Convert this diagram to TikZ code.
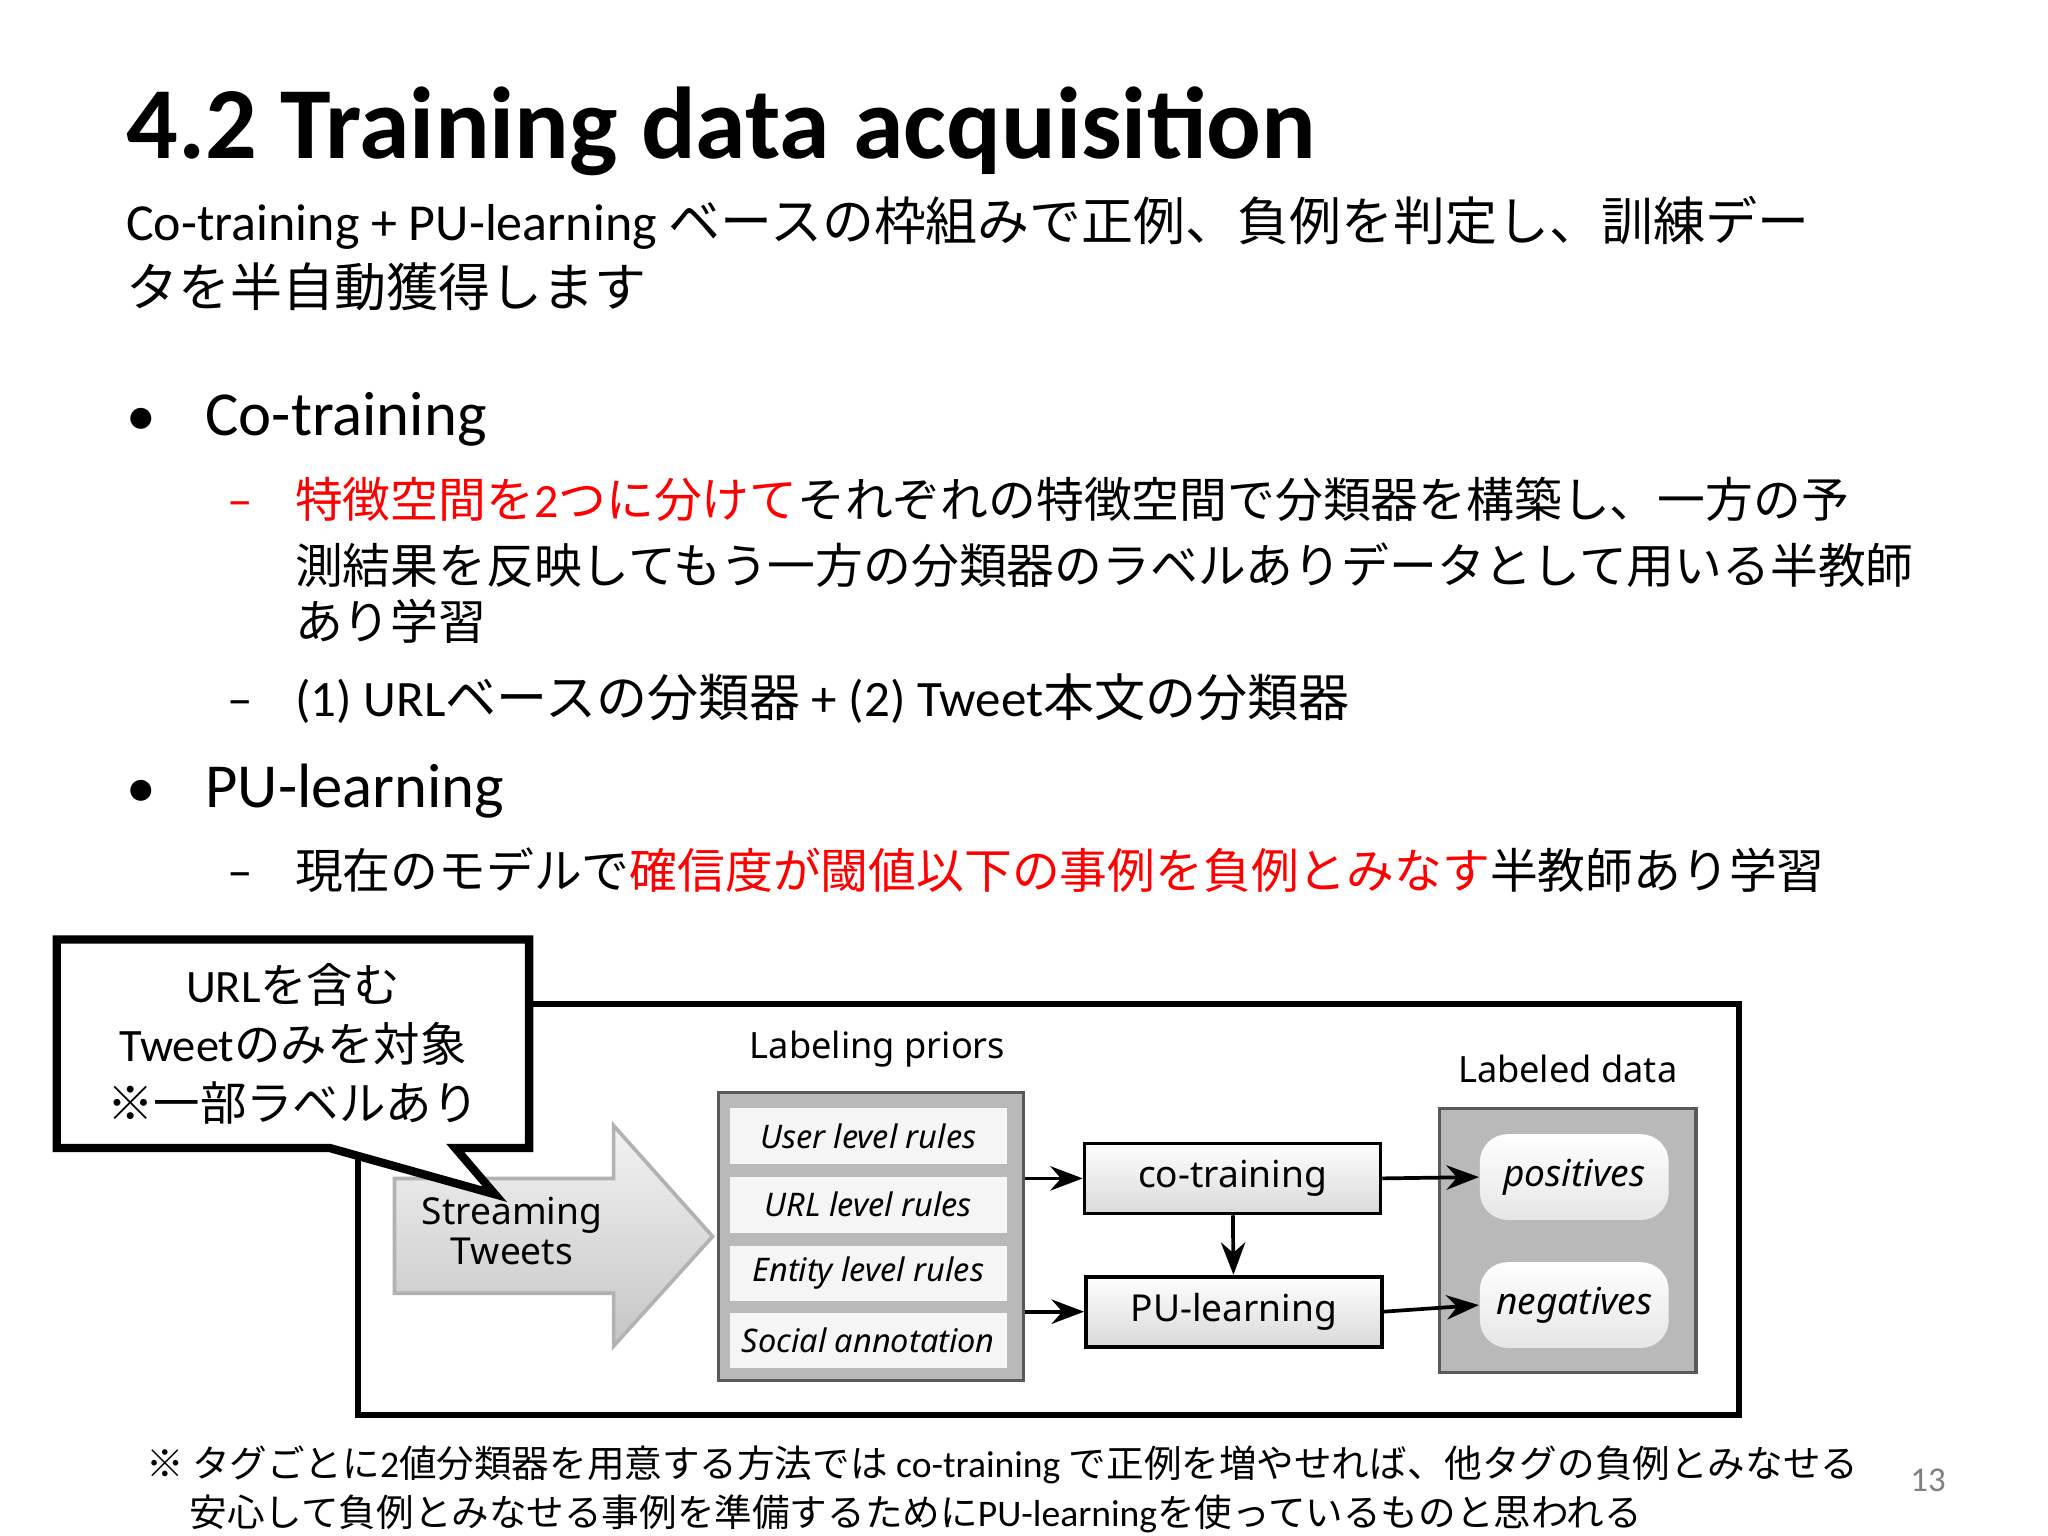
\documentclass[tikz,border=0pt]{standalone}
\usepackage{fontspec}
\setmainfont{Carlito}
\newfontfamily\jp{Noto Sans CJK JP}
\newfontfamily\dg{Noto Sans}
\usetikzlibrary{arrows.meta,shadows}
\begin{document}
\begin{tikzpicture}[x=0.01cm,y=-0.01cm,
  txt/.style={anchor=base west,inner sep=0},
  rule/.style={fill=gray!8,draw=none,minimum width=2.1cm,minimum height=0.42cm,font=\dg\itshape\fontsize{7}{9}\selectfont,inner sep=0},
  proc/.style={draw=black,thick,top color=white,bottom color=gray!30,minimum width=2.24cm,minimum height=0.53cm,font=\dg\fontsize{8}{10}\selectfont,inner sep=0},
  res/.style={rounded corners=6pt,top color=white,bottom color=gray!20,draw=none,minimum width=1.43cm,minimum height=0.65cm,font=\dg\itshape\fontsize{8}{10}\selectfont,inner sep=0},
  arr/.style={-{Stealth[length=7pt]},thick}]
\useasboundingbox (0,0) rectangle (1552,1164);
\fill[white] (0,0) rectangle (1552,1164);
\def\red{\color{red}}
\node[txt,font=\bfseries\fontsize{22}{25}\selectfont] (title) at (95,120) {4.2 Training data acquisition};
\node[txt,font=\fontsize{11.2}{14}\selectfont] (s1) at (95,182) {Co-training + PU-learning {\jp ベースの枠組みで正例、負例を判定し、訓練デー}};
\node[txt,font=\jp\fontsize{11.2}{14}\selectfont] (s2) at (95,232) {タを半自動獲得します};
\node[txt,font=\fontsize{12.8}{15}\selectfont] (b1) at (95,330) {•};
\node[txt,font=\fontsize{13.5}{15}\selectfont] (b1t) at (155,330) {Co-training};
\node[txt,font=\fontsize{11}{14}\selectfont] (d1) at (172,392) {\red –};
\node[txt,font=\jp\fontsize{10.3}{14}\selectfont] (d1a) at (223,392) {{\red 特徴空間を{\rmfamily 2}つに分けて}それぞれの特徴空間で分類器を構築し、一方の予};
\node[txt,font=\jp\fontsize{10.3}{14}\selectfont] (d1b) at (223,442) {測結果を反映してもう一方の分類器のラベルありデータとして用いる半教師};
\node[txt,font=\jp\fontsize{10.3}{14}\selectfont] (d1c) at (223,485) {あり学習};
\node[txt,font=\fontsize{11}{14}\selectfont] (d2) at (172,543) {–};
\node[txt,font=\fontsize{11}{14}\selectfont] (d2a) at (223,543) {(1) URL{\jp ベースの分類器} + (2) Tweet{\jp 本文の分類器}};
\node[txt,font=\fontsize{12.8}{15}\selectfont] (b2) at (95,612) {•};
\node[txt,font=\fontsize{13.5}{15}\selectfont] (b2t) at (155,612) {PU-learning};
\node[txt,font=\fontsize{11}{14}\selectfont] (d3) at (172,673) {–};
\node[txt,font=\jp\fontsize{10.3}{14}\selectfont] (d3a) at (223,673) {現在のモデルで{\red 確信度が閾値以下の事例を負例とみなす}半教師あり学習};
% diagram
\draw[line width=1.3pt] (271,761) rectangle (1318,1072);
\draw[top color=gray!10,bottom color=gray!45,draw=gray!60,thick] (299,893) -- (465,893) -- (465,853) -- (540,937) -- (465,1020) -- (465,980) -- (299,980) -- cycle;
\node[align=center,font=\dg\fontsize{8}{8.5}\selectfont,inner sep=0] (st) at (388,933) {Streaming\\Tweets};
\node[font=\dg\fontsize{7.8}{10}\selectfont] (lp) at (665,795) {Labeling priors};
\node[draw=gray!70!black,thick,fill=gray!55,minimum width=2.31cm,minimum height=2.18cm,inner sep=0] (pri) at (660,937) {};
\node[rule] (r1) at (658,861) {User level rules};
\node[rule] (r2) at (658,913) {URL level rules};
\node[rule] (r3) at (658,965) {Entity level rules};
\node[rule] (r4) at (658,1016) {Social annotation};
\node[proc] (co) at (934,893) {co-training};
\node[proc] (pu) at (935,994) {PU-learning};
\node[font=\dg\fontsize{7.8}{10}\selectfont] (ld) at (1188,810) {Labeled data};
\node[draw=gray!70!black,thick,fill=gray!55,minimum width=1.94cm,minimum height=2.0cm,inner sep=0] (lbox) at (1188,940) {};
\node[res] (pos) at (1193,892) {positives};
\node[res] (neg) at (1193,989) {negatives};
\draw[arr] (pri.east |- co) -- (co.west);
\draw[arr] (pri.east |- pu) -- (pu.west);
\draw[arr] (co) -- (pu);
\draw[arr] (co.east) -- (pos.west);
\draw[arr] (pu.east) -- (neg.west);
% callout
\draw[line width=1.8pt,fill=white] (43,712) -- (401,712) -- (401,870) -- (345,870) -- (375,905) -- (250,870) -- (43,870) -- cycle;
\node[align=center,font=\fontsize{10}{12.8}\selectfont,inner sep=0] (call) at (222,791) {URL{\jp を含む}\\Tweet{\jp のみを対象}\\{\jp ※一部ラベルあり}};
% footnote
\node[txt,font=\jp\fontsize{8.1}{10}\selectfont] (f1) at (110,1120) {※ タグごとに{\rmfamily 2}値分類器を用意する方法では {\rmfamily co-training} で正例を増やせれば、他タグの負例とみなせる};
\node[txt,font=\jp\fontsize{8.1}{10}\selectfont] (f2) at (143,1157) {安心して負例とみなせる事例を準備するために{\rmfamily PU-learning}を使っているものと思われる};
\node[txt,font=\fontsize{7.5}{10}\selectfont,text=gray] (pg) at (1447,1130) {13};
\end{tikzpicture}
\end{document}
